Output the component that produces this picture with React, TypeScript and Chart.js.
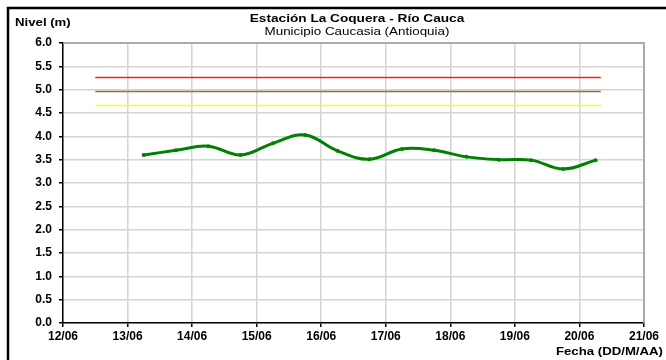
import React, { useEffect, useRef } from "react";
import { Chart, registerables } from "chart.js";

Chart.register(...registerables);

// Data (x in days of June, fractional = time of day)
const obsDays: number[] = [13.25, 13.75, 14.25, 14.75, 15.25, 15.75, 16.25, 16.75, 17.25, 17.75, 18.25, 18.75, 19.25, 19.75, 20.25];
const levels: number[] = [3.60, 3.70, 3.79, 3.60, 3.85, 4.03, 3.69, 3.51, 3.73, 3.70, 3.56, 3.50, 3.49, 3.30, 3.49];

const thresholdSpan: number[] = [12.5, 20.33];
const redLevel = 5.26;
const brownLevel = 4.96;
const yellowLevel = 4.66;

const xTickDays: number[] = [12, 13, 14, 15, 16, 17, 18, 19, 20, 21];
const yTicks: number[] = [0, 0.5, 1, 1.5, 2, 2.5, 3, 3.5, 4, 4.5, 5, 5.5, 6];

const titleText = "Estación La Coquera - Río Cauca";
const subtitleText = "Municipio Caucasia (Antioquia)";
const yAxisTitle = "Nivel (m)";
const xAxisTitle = "Fecha (DD/M/AA)";

const FONT = "'Liberation Sans', Arial, sans-serif";

function stretchedText(ctx: any, text: string, x: number, y: number, font: string, sx: number, align: string) {
  ctx.save();
  ctx.font = font;
  ctx.textBaseline = "middle";
  ctx.textAlign = "left";
  const w = ctx.measureText(text).width * sx;
  let left = x;
  if (align === "center") left = x - w / 2;
  else if (align === "right") left = x - w;
  ctx.translate(left, y);
  ctx.scale(sx, 1);
  ctx.fillText(text, 0, 0);
  ctx.restore();
}

const decorPlugin = {
  id: "decor",
  afterDraw(chart: any) {
    const ctx = chart.ctx;
    const a = chart.chartArea;
    ctx.save();
    // plot area top/right border (gray)
    ctx.strokeStyle = "#9a9a9a";
    ctx.lineWidth = 1.5;
    ctx.beginPath();
    ctx.moveTo(a.left, a.top);
    ctx.lineTo(a.right, a.top);
    ctx.lineTo(a.right, a.bottom);
    ctx.stroke();
    // outer frame (top and left)
    ctx.strokeStyle = "#000";
    ctx.lineWidth = 2.5;
    ctx.beginPath();
    ctx.moveTo(8, 360);
    ctx.lineTo(8, 8);
    ctx.lineTo(666, 8);
    ctx.stroke();
    // texts
    ctx.fillStyle = "#000";
    stretchedText(ctx, titleText, 357, 19, `bold 11px ${FONT}`, 1.24, "center");
    stretchedText(ctx, subtitleText, 357, 32, `11px ${FONT}`, 1.22, "center");
    stretchedText(ctx, yAxisTitle, 15, 23, `bold 11px ${FONT}`, 1.2, "left");
    stretchedText(ctx, xAxisTitle, 663, 352, `bold 11px ${FONT}`, 1.2, "right");
    ctx.restore();
  },
};

export default function App() {
  const ref = useRef<HTMLCanvasElement | null>(null);

  useEffect(() => {
    if (!ref.current) return;
    const mkLine = (y: number) => thresholdSpan.map((x) => ({ x, y }));
    const chart = new Chart(ref.current, {
      type: "line",
      data: {
        datasets: [
          {
            label: "Rojo",
            data: mkLine(redLevel),
            borderColor: "#ee2020",
            borderWidth: 1.5,
            pointRadius: 0,
            tension: 0,
          },
          {
            label: "Marrón",
            data: mkLine(brownLevel),
            borderColor: "#9a6a44",
            borderWidth: 1.5,
            pointRadius: 0,
            tension: 0,
          },
          {
            label: "Amarillo",
            data: mkLine(yellowLevel),
            borderColor: "#ffff00",
            borderWidth: 1.5,
            pointRadius: 0,
            tension: 0,
          },
          {
            label: "Nivel",
            data: obsDays.map((x, i) => ({ x, y: levels[i] })),
            borderColor: "#008000",
            backgroundColor: "#008000",
            borderWidth: 3,
            pointRadius: 2,
            pointBorderWidth: 0,
            tension: 0.4,
          },
        ],
      },
      options: {
        animation: false,
        responsive: false,
        devicePixelRatio: 1,
        events: [],
        layout: { padding: { left: 0, right: 22, top: 43, bottom: 0 } },
        plugins: {
          legend: { display: false },
          title: { display: false },
          tooltip: { enabled: false },
        },
        scales: {
          x: {
            type: "linear",
            min: 12,
            max: 21,
            afterBuildTicks: (scale: any) => {
              scale.ticks = xTickDays.map((v) => ({ value: v }));
            },
            afterFit: (scale: any) => {
              scale.height = 37;
            },
            ticks: {
              color: "#000",
              font: { family: FONT, size: 12, weight: "bold" },
              padding: 2,
              maxRotation: 0,
              autoSkip: false,
              callback: (v: any) => `${String(v).padStart(2, "0")}/06`,
            },
            grid: {
              color: "#d4d4d4",
              lineWidth: 1.5,
              tickColor: "#000",
              tickLength: 4,
            },
            border: { display: true, color: "#000", width: 1.5 },
          },
          y: {
            min: 0,
            max: 6,
            afterBuildTicks: (scale: any) => {
              scale.ticks = yTicks.map((v) => ({ value: v }));
            },
            afterFit: (scale: any) => {
              scale.width = 63;
            },
            ticks: {
              color: "#000",
              font: { family: FONT, size: 12, weight: "bold" },
              padding: 7,
              callback: (v: any) => Number(v).toFixed(1),
            },
            grid: {
              color: "#d4d4d4",
              lineWidth: 1.5,
              tickColor: "#000",
              tickLength: 4,
            },
            border: { display: true, color: "#000", width: 1.5 },
          },
        },
      },
      plugins: [decorPlugin],
    } as any);
    return () => chart.destroy();
  }, []);

  return (
    <div style={{ position: "absolute", left: 0, top: 0, width: 666, height: 360, background: "#fff" }}>
      <canvas ref={ref} width={666} height={360} style={{ width: 666, height: 360, display: "block" }} />
    </div>
  );
}
